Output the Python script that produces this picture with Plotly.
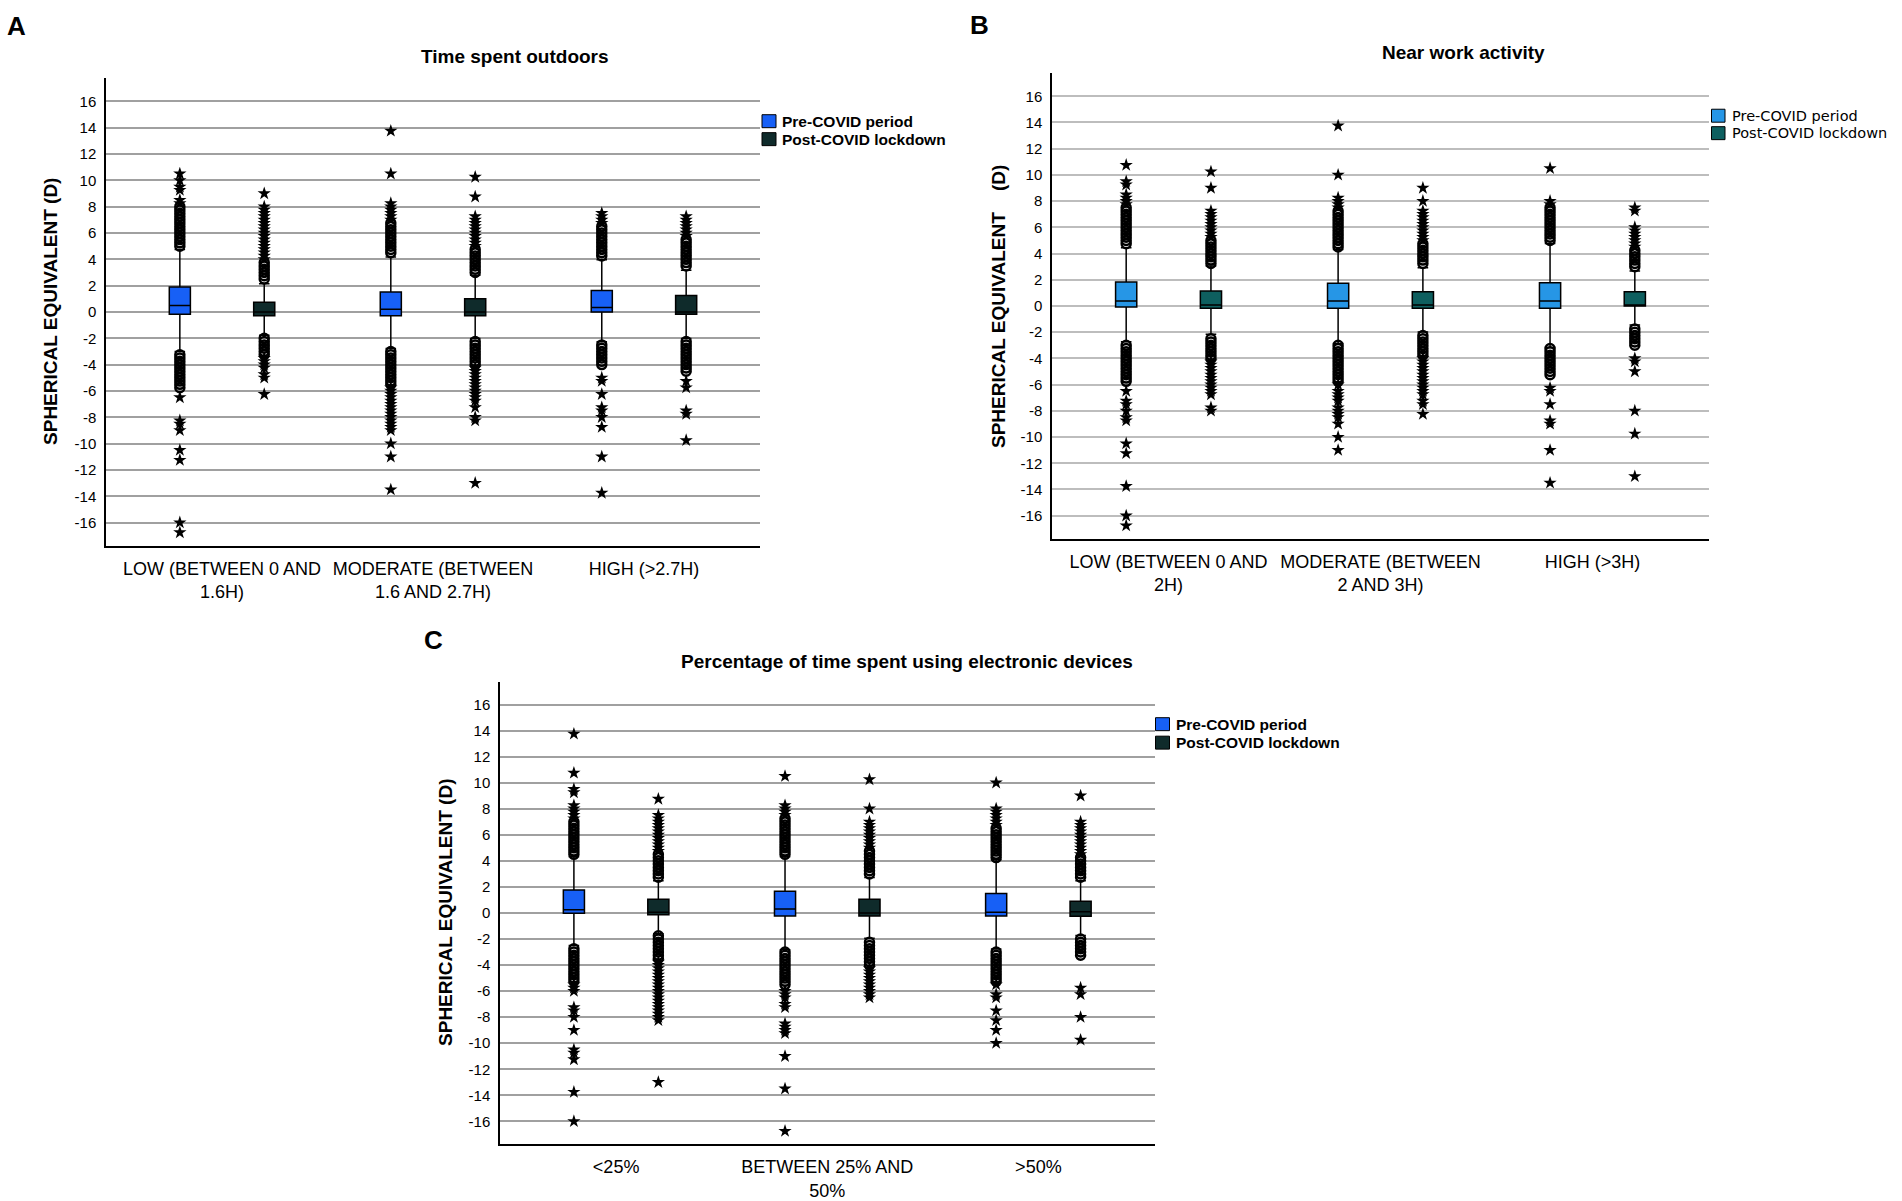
import plotly.graph_objects as go

W, H = 1902, 1201
FONT = "Liberation Sans"
LEGEND_FONT = "DejaVu Sans"

# ---------------- data ----------------
Y_TICKS = [-16, -14, -12, -10, -8, -6, -4, -2, 0, 2, 4, 6, 8, 10, 12, 14, 16]
SERIES = ["Pre-COVID period", "Post-COVID lockdown"]

# Panel A - Time spent outdoors
A_title = "Time spent outdoors"
A_categories = ["LOW (BETWEEN 0 AND<br>1.6H)", "MODERATE (BETWEEN<br>1.6 AND 2.7H)", "HIGH (>2.7H)"]
A_pre_q1 = [-0.18, -0.28, 0.0]
A_pre_median = [0.5, 0.2, 0.33]
A_pre_q3 = [1.9, 1.52, 1.64]
A_pre_whisker_low = [-3.0, -2.78, -2.27]
A_pre_whisker_high = [4.75, 4.17, 3.96]
A_post_q1 = [-0.28, -0.28, -0.18]
A_post_median = [0.0, 0.0, 0.0]
A_post_q3 = [0.73, 1.01, 1.26]
A_post_whisker_low = [-1.77, -2.02, -2.02]
A_post_whisker_high = [2.15, 2.78, 3.16]
A_pre_outliers = [
    [5.0, 5.25, 5.5, 5.75, 6.0, 6.25, 6.5, 6.75, 7.0, 7.25, 7.5, 7.75, 8.0, 8.25, 8.5, 9.25, 9.5, 10.0, 10.5,
     -3.25, -3.5, -3.75, -4.0, -4.25, -4.5, -4.75, -5.0, -5.25, -5.5, -5.75, -6.5, -8.25, -8.5, -9.0, -10.5, -11.25, -16.0, -16.75],
    [4.5, 4.75, 5.0, 5.25, 5.5, 5.75, 6.0, 6.25, 6.5, 6.75, 7.0, 7.25, 7.5, 7.75, 8.0, 8.25, 10.5, 13.75,
     -3.0, -3.25, -3.5, -3.75, -4.0, -4.25, -4.5, -4.75, -5.0, -5.25, -5.5, -5.75, -6.0, -6.25, -6.5, -6.75, -7.0,
     -7.25, -7.5, -7.75, -8.0, -8.25, -8.5, -8.75, -9.0, -10.0, -11.0, -13.5],
    [4.25, 4.5, 4.75, 5.0, 5.25, 5.5, 5.75, 6.0, 6.25, 6.5, 6.75, 7.0, 7.25, 7.5,
     -2.5, -2.75, -3.0, -3.25, -3.5, -3.75, -4.0, -5.0, -5.25, -6.25, -7.25, -7.5, -8.0, -8.75, -11.0, -13.75],
]
A_post_outliers = [
    [2.5, 2.75, 3.0, 3.25, 3.5, 3.75, 4.0, 4.25, 4.5, 4.75, 5.0, 5.25, 5.5, 5.75, 6.0, 6.25, 6.5, 6.75, 7.0, 7.25,
     7.5, 7.75, 8.0, 9.0,
     -2.0, -2.25, -2.5, -2.75, -3.0, -3.25, -3.5, -3.75, -4.0, -4.25, -4.75, -5.0, -6.25],
    [3.0, 3.25, 3.5, 3.75, 4.0, 4.25, 4.5, 4.75, 5.0, 5.25, 5.5, 5.75, 6.0, 6.25, 6.5, 6.75, 7.0, 7.25, 8.75, 10.25,
     -2.25, -2.5, -2.75, -3.0, -3.25, -3.5, -3.75, -4.0, -4.25, -4.5, -4.75, -5.0, -5.25, -5.5, -5.75, -6.0, -6.25,
     -6.5, -6.75, -7.25, -8.0, -8.25, -13.0],
    [3.5, 3.75, 4.0, 4.25, 4.5, 4.75, 5.0, 5.25, 5.5, 5.75, 6.0, 6.25, 6.5, 6.75, 7.0, 7.25,
     -2.25, -2.5, -2.75, -3.0, -3.25, -3.5, -3.75, -4.0, -4.25, -4.5, -5.25, -5.75, -7.5, -7.75, -9.75],
]

# Panel B - Near work activity
B_title = "Near work activity"
B_categories = ["LOW (BETWEEN 0 AND<br>2H)", "MODERATE (BETWEEN<br>2 AND 3H)", "HIGH (>3H)"]
B_pre_q1 = [-0.08, -0.18, -0.18]
B_pre_median = [0.38, 0.38, 0.38]
B_pre_q3 = [1.83, 1.73, 1.78]
B_pre_whisker_low = [-2.72, -2.87, -3.17]
B_pre_whisker_high = [4.44, 4.31, 4.77]
B_post_q1 = [-0.18, -0.18, 0.0]
B_post_median = [0.08, 0.08, 0.05]
B_post_q3 = [1.14, 1.09, 1.09]
B_post_whisker_low = [-2.16, -1.98, -1.45]
B_post_whisker_high = [3.05, 2.92, 2.66]
B_pre_outliers = [
    [4.75, 5.0, 5.25, 5.5, 5.75, 6.0, 6.25, 6.5, 6.75, 7.0, 7.25, 7.5, 7.75, 8.0, 8.25, 8.5, 9.25, 9.5, 10.75,
     -3.0, -3.25, -3.5, -3.75, -4.0, -4.25, -4.5, -4.75, -5.0, -5.25, -5.5, -5.75, -6.5, -7.25, -7.5, -8.0, -8.5,
     -8.75, -10.5, -11.25, -13.75, -16.0, -16.75],
    [4.5, 4.75, 5.0, 5.25, 5.5, 5.75, 6.0, 6.25, 6.5, 6.75, 7.0, 7.25, 7.5, 7.75, 8.0, 8.25, 10.0, 13.75,
     -3.0, -3.25, -3.5, -3.75, -4.0, -4.25, -4.5, -4.75, -5.0, -5.25, -5.5, -5.75, -6.0, -6.5, -6.75, -7.0, -7.25,
     -7.75, -8.0, -8.25, -8.5, -9.0, -10.0, -11.0],
    [5.0, 5.25, 5.5, 5.75, 6.0, 6.25, 6.5, 6.75, 7.0, 7.25, 7.5, 7.75, 8.0, 10.5,
     -3.25, -3.5, -3.75, -4.0, -4.25, -4.5, -4.75, -5.0, -5.25, -6.25, -6.5, -7.5, -8.75, -9.0, -11.0, -13.5],
]
B_post_outliers = [
    [3.25, 3.5, 3.75, 4.0, 4.25, 4.5, 4.75, 5.0, 5.25, 5.5, 5.75, 6.0, 6.25, 6.5, 6.75, 7.0, 7.25, 9.0, 10.25,
     -2.5, -2.75, -3.0, -3.25, -3.5, -3.75, -4.0, -4.25, -4.5, -4.75, -5.0, -5.25, -5.5, -5.75, -6.0, -6.25, -6.5,
     -6.75, -7.75, -8.0],
    [3.25, 3.5, 3.75, 4.0, 4.25, 4.5, 4.75, 5.0, 5.25, 5.5, 5.75, 6.0, 6.25, 6.5, 6.75, 7.0, 7.25, 8.0, 9.0,
     -2.25, -2.5, -2.75, -3.0, -3.25, -3.5, -3.75, -4.0, -4.25, -4.5, -4.75, -5.0, -5.25, -5.5, -5.75, -6.0, -6.25,
     -6.5, -6.75, -7.25, -7.5, -8.25],
    [3.0, 3.25, 3.5, 3.75, 4.0, 4.25, 4.5, 4.75, 5.0, 5.25, 5.5, 5.75, 6.0, 7.25, 7.5,
     -1.75, -2.0, -2.25, -2.5, -2.75, -3.0, -4.0, -4.25, -5.0, -8.0, -9.75, -13.0],
]

# Panel C - Percentage of time spent using electronic devices
C_title = "Percentage of time spent using electronic devices"
C_categories = ["<25%", "BETWEEN 25% AND<br>50%", ">50%"]
C_pre_q1 = [-0.03, -0.23, -0.23]
C_pre_median = [0.25, 0.3, 0.05]
C_pre_q3 = [1.76, 1.66, 1.5]
C_pre_whisker_low = [-2.5, -2.83, -2.76]
C_pre_whisker_high = [4.31, 4.31, 4.08]
C_post_q1 = [-0.13, -0.23, -0.26]
C_post_median = [0.05, 0.0, 0.1]
C_post_q3 = [1.05, 1.05, 0.89]
C_post_whisker_low = [-1.6, -1.94, -1.73]
C_post_whisker_high = [2.47, 2.73, 2.47]
C_pre_outliers = [
    [4.5, 4.75, 5.0, 5.25, 5.5, 5.75, 6.0, 6.25, 6.5, 6.75, 7.0, 7.25, 7.5, 7.75, 8.0, 8.25, 9.25, 9.5, 10.75, 13.75,
     -2.75, -3.0, -3.25, -3.5, -3.75, -4.0, -4.25, -4.5, -4.75, -5.0, -5.25, -5.5, -5.75, -6.0, -7.25, -7.5, -8.0,
     -9.0, -10.5, -10.75, -11.25, -13.75, -16.0],
    [4.5, 4.75, 5.0, 5.25, 5.5, 5.75, 6.0, 6.25, 6.5, 6.75, 7.0, 7.25, 7.5, 7.75, 8.0, 8.25, 10.5,
     -3.0, -3.25, -3.5, -3.75, -4.0, -4.25, -4.5, -4.75, -5.0, -5.25, -5.5, -6.0, -6.25, -6.5, -7.0, -7.25, -8.5,
     -8.75, -9.0, -9.25, -11.0, -13.5, -16.75],
    [4.25, 4.5, 4.75, 5.0, 5.25, 5.5, 5.75, 6.0, 6.25, 6.5, 6.75, 7.0, 7.25, 7.5, 7.75, 8.0, 10.0,
     -3.0, -3.25, -3.5, -3.75, -4.0, -4.25, -4.5, -4.75, -5.0, -5.25, -5.5, -6.25, -6.5, -7.5, -8.25, -9.0, -10.0],
]
C_post_outliers = [
    [2.75, 3.0, 3.25, 3.5, 3.75, 4.0, 4.25, 4.5, 4.75, 5.0, 5.25, 5.5, 5.75, 6.0, 6.25, 6.5, 6.75, 7.0, 7.25, 7.5,
     8.75,
     -1.75, -2.0, -2.25, -2.5, -2.75, -3.0, -3.25, -3.5, -3.75, -4.0, -4.25, -4.5, -4.75, -5.0, -5.25, -5.5, -5.75,
     -6.0, -6.25, -6.5, -6.75, -7.0, -7.25, -7.5, -7.75, -8.0, -8.25, -13.0],
    [3.0, 3.25, 3.5, 3.75, 4.0, 4.25, 4.5, 4.75, 5.0, 5.25, 5.5, 5.75, 6.0, 6.25, 6.5, 6.75, 7.0, 8.0, 10.25,
     -2.25, -2.5, -2.75, -3.0, -3.25, -3.5, -3.75, -4.0, -4.25, -4.5, -4.75, -5.0, -5.25, -5.5, -5.75, -6.0, -6.25,
     -6.5],
    [2.75, 3.0, 3.25, 3.5, 3.75, 4.0, 4.25, 4.5, 4.75, 5.0, 5.25, 5.5, 5.75, 6.0, 6.25, 6.5, 6.75, 7.0, 9.0,
     -2.0, -2.25, -2.5, -2.75, -3.0, -3.25, -5.75, -6.25, -8.0, -9.75],
]

# ---------------- layout / style ----------------
panels = [
    dict(letter="A", title=A_title, cats=A_categories,
         pre=(A_pre_q1, A_pre_median, A_pre_q3, A_pre_whisker_low, A_pre_whisker_high),
         post=(A_post_q1, A_post_median, A_post_q3, A_post_whisker_low, A_post_whisker_high),
         pre_out=A_pre_outliers, post_out=A_post_outliers,
         px=(106, 760), py=(78.5, 547), colors=("#1760f6", "#0f2b2b"), grid="#a0a0a0",
         title_xy=(515, 57), letter_xy=(5, 26), ytitle="SPHERICAL EQUIVALENT (D)", ytitle_x=51,
         leg_box=(762, 776), leg_rows=(121.5, 139.5), leg_text_x=780, leg_bold=True),
    dict(letter="B", title=B_title, cats=B_categories,
         pre=(B_pre_q1, B_pre_median, B_pre_q3, B_pre_whisker_low, B_pre_whisker_high),
         post=(B_post_q1, B_post_median, B_post_q3, B_post_whisker_low, B_post_whisker_high),
         pre_out=B_pre_outliers, post_out=B_post_outliers,
         px=(1052, 1709), py=(73.5, 540), colors=("#2696e6", "#0e5f5f"), grid="#bdbdbd",
         title_xy=(1463, 53), letter_xy=(968, 25),
         ytitle="SPHERICAL EQUIVALENT\u00a0\u00a0\u00a0\u00a0(D)", ytitle_x=999,
         leg_box=(1711.5, 1725), leg_rows=(116, 133.5), leg_text_x=1729.5, leg_bold=False),
    dict(letter="C", title=C_title, cats=C_categories,
         pre=(C_pre_q1, C_pre_median, C_pre_q3, C_pre_whisker_low, C_pre_whisker_high),
         post=(C_post_q1, C_post_median, C_post_q3, C_post_whisker_low, C_post_whisker_high),
         pre_out=C_pre_outliers, post_out=C_post_outliers,
         px=(500, 1154.5), py=(683.5, 1147), colors=("#1760f6", "#0f2b2b"), grid="#a0a0a0",
         title_xy=(907, 663), letter_xy=(422, 642), ytitle="SPHERICAL EQUIVALENT (D)", ytitle_x=446,
         leg_box=(1155.5, 1169.5), leg_rows=(726, 744.5), leg_text_x=1173.6, leg_bold=True),
]

OFFSET = 0.2
BOX_W = 0.1


def fx(p):
    return p / W


def fy(p):
    return 1 - p / H


fig = go.Figure()
annotations = []
shapes = []
layout_axes = {}

for i, p in enumerate(panels):
    n = i + 1
    xa = "x" if n == 1 else f"x{n}"
    ya = "y" if n == 1 else f"y{n}"
    xkey = "xaxis" if n == 1 else f"xaxis{n}"
    ykey = "yaxis" if n == 1 else f"yaxis{n}"
    ncat = len(p["cats"])
    cat_pos = list(range(ncat))

    for s, (stats, outl, color, off) in enumerate(
            [(p["pre"], p["pre_out"], p["colors"][0], -OFFSET),
             (p["post"], p["post_out"], p["colors"][1], OFFSET)]):
        q1, med, q3, wlo, whi = stats
        xs = [c + off for c in cat_pos]
        fig.add_trace(go.Box(
            x=xs, q1=q1, median=med, q3=q3, lowerfence=wlo, upperfence=whi,
            orientation="v", width=BOX_W, whiskerwidth=0.5, boxpoints=False,
            fillcolor=color, line=dict(color="black", width=1.5),
            name=SERIES[s], showlegend=False, xaxis=xa, yaxis=ya, hoverinfo="skip"))
        # outliers: circles (1.5-3 IQR) and stars (> 3 IQR), SPSS style
        cx, cy, sx, sy = [], [], [], []
        for k in range(ncat):
            iqr = q3[k] - q1[k]
            for v in outl[k]:
                if v > q3[k] + 3 * iqr or v < q1[k] - 3 * iqr:
                    sx.append(xs[k]); sy.append(v)
                else:
                    cx.append(xs[k]); cy.append(v)
        fig.add_trace(go.Scatter(
            x=cx, y=cy, mode="markers", showlegend=False, xaxis=xa, yaxis=ya, hoverinfo="skip",
            marker=dict(symbol="circle-open", size=9, color="black", line=dict(width=2.5, color="black"))))
        fig.add_trace(go.Scatter(
            x=sx, y=sy, mode="markers", showlegend=False, xaxis=xa, yaxis=ya, hoverinfo="skip",
            marker=dict(symbol="star", size=10, color="black", line=dict(width=0))))

    layout_axes[xkey] = dict(
        domain=[fx(p["px"][0]), fx(p["px"][1])], anchor=ya, range=[-0.55, ncat - 1 + 0.55],
        tickmode="array", tickvals=cat_pos, ticktext=p["cats"], showgrid=False, zeroline=False,
        showline=True, linecolor="black", linewidth=1.5, ticks="", ticklabelstandoff=6,
        tickfont=dict(family=FONT, size=18, color="black"), fixedrange=True)
    layout_axes[ykey] = dict(
        domain=[fy(p["py"][1]), fy(p["py"][0])], anchor=xa, range=[-17.75, 17.75],
        tickmode="array", tickvals=Y_TICKS, ticktext=[str(t) for t in Y_TICKS],
        showgrid=True, gridcolor=p["grid"], gridwidth=1.5, zeroline=False,
        showline=True, linecolor="black", linewidth=1.5, ticks="", ticklabelstandoff=5,
        tickfont=dict(family=FONT, size=15, color="black"), fixedrange=True)

    # title, panel letter, y-title
    annotations.append(dict(text=f"<b>{p['title']}</b>", x=fx(p["title_xy"][0]), y=fy(p["title_xy"][1]),
                            xref="paper", yref="paper", xanchor="center", yanchor="middle", showarrow=False,
                            font=dict(family=FONT, size=19, color="black")))
    annotations.append(dict(text=f"<b>{p['letter']}</b>", x=fx(p["letter_xy"][0]), y=fy(p["letter_xy"][1]),
                            xref="paper", yref="paper", xanchor="left", yanchor="middle", showarrow=False,
                            font=dict(family=FONT, size=26, color="black")))
    annotations.append(dict(text=f"<b>{p['ytitle']}</b>", x=fx(p["ytitle_x"]),
                            y=fy((p["py"][0] + p["py"][1]) / 2), textangle=-90,
                            xref="paper", yref="paper", xanchor="center", yanchor="middle", showarrow=False,
                            font=dict(family=FONT, size=19, color="black")))
    # legend
    for s in range(2):
        cy_ = p["leg_rows"][s]
        shapes.append(dict(type="rect", xref="paper", yref="paper",
                           x0=fx(p["leg_box"][0]), x1=fx(p["leg_box"][1]),
                           y0=fy(cy_ + 6.5), y1=fy(cy_ - 6.5),
                           fillcolor=p["colors"][s], line=dict(color="black", width=1)))
        label = f"<b>{SERIES[s]}</b>" if p["leg_bold"] else SERIES[s]
        annotations.append(dict(text=label, x=fx(p["leg_text_x"]), y=fy(cy_),
                                xref="paper", yref="paper", xanchor="left", yanchor="middle", showarrow=False,
                                font=dict(family=FONT if p["leg_bold"] else LEGEND_FONT,
                                          size=15.5 if p["leg_bold"] else 14.5, color="black")))

fig.update_layout(
    width=W, height=H, autosize=False,
    margin=dict(l=0, r=0, t=0, b=0, pad=0),
    paper_bgcolor="white", plot_bgcolor="white",
    showlegend=False, annotations=annotations, shapes=shapes,
    **layout_axes)

fig.write_html("out.html", config={"displayModeBar": False},
               post_script="document.body.style.margin='0px';document.body.style.overflow='hidden';")
